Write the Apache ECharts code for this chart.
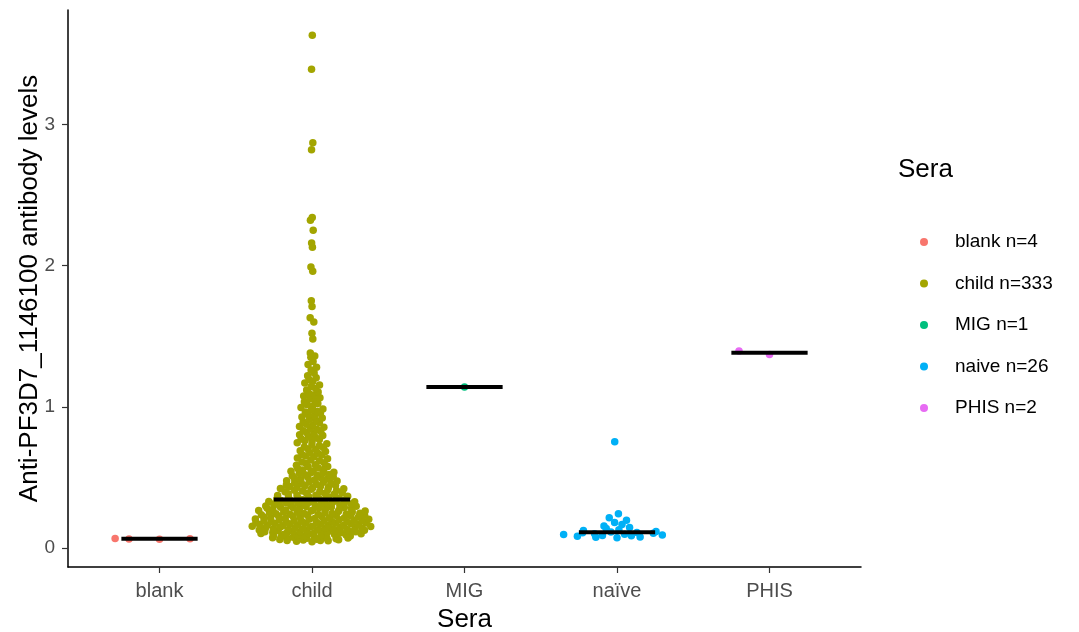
<!DOCTYPE html>
<html>
<head>
<meta charset="utf-8">
<script src="https://cdn.jsdelivr.net/npm/echarts@6/dist/echarts.min.js"></script>
<style>
  html, body { margin: 0; padding: 0; background: #ffffff; }
  #chart { width: 1079px; height: 632px; }
</style>
</head>
<body>
<div id="chart"></div>
<script>
// Groups shown on the x axis and their legend labels
const categories = ['blank', 'child', 'MIG', 'naïve', 'PHIS'];
const legendLabels = ['blank', 'child', 'MIG', 'naive', 'PHIS'];
const yTicks = [0, 1, 2, 3];

// Antibody levels per serum group
const blankValues = [0.062, 0.066, 0.064, 0.068];
const migValues = [1.14];
const phisValues = [1.395, 1.37];
const naiveValues = [
  0.072, 0.077, 0.079, 0.083, 0.087, 0.088, 0.092, 0.096, 0.097, 0.101,
  0.104, 0.108, 0.110, 0.114, 0.117, 0.124, 0.129, 0.139, 0.145, 0.156,
  0.166, 0.181, 0.197, 0.214, 0.242, 0.752
];
const childValues = [
  0.045, 0.048,
  0.051, 0.053, 0.054, 0.057, 0.058, 0.061, 0.062, 0.063, 0.065, 0.067,
  0.068, 0.070, 0.071, 0.073, 0.075, 0.076, 0.079, 0.080, 0.082, 0.083,
  0.086, 0.087, 0.090, 0.092, 0.093, 0.096, 0.098,
  0.101, 0.102, 0.103, 0.105, 0.107, 0.109, 0.110, 0.111, 0.113, 0.115,
  0.116, 0.118, 0.119, 0.120, 0.122, 0.124, 0.125, 0.126, 0.128, 0.130,
  0.131, 0.132, 0.134, 0.136, 0.137, 0.138, 0.140, 0.142, 0.144, 0.145,
  0.147, 0.149,
  0.151, 0.152, 0.154, 0.155, 0.157, 0.159, 0.161, 0.162, 0.163, 0.166,
  0.167, 0.168, 0.170, 0.172, 0.173, 0.175, 0.176, 0.178, 0.180, 0.181,
  0.183, 0.184, 0.186, 0.188, 0.189, 0.191, 0.192, 0.194, 0.195, 0.197,
  0.199,
  0.201, 0.203, 0.204, 0.206, 0.209, 0.210, 0.212, 0.213, 0.215, 0.218,
  0.219, 0.220, 0.222, 0.225, 0.226, 0.227, 0.230, 0.232, 0.233, 0.235,
  0.238, 0.239, 0.241, 0.242, 0.244, 0.245, 0.247, 0.249,
  0.251, 0.254, 0.255, 0.256, 0.259, 0.262, 0.263, 0.265, 0.268, 0.269,
  0.270, 0.273, 0.276, 0.277, 0.279, 0.282, 0.283, 0.286, 0.287, 0.288,
  0.291, 0.294, 0.295, 0.297, 0.299,
  0.301, 0.304, 0.305, 0.307, 0.310, 0.311, 0.312, 0.315, 0.318, 0.319,
  0.321, 0.322, 0.325, 0.328, 0.329, 0.330, 0.333, 0.336, 0.337, 0.339,
  0.341, 0.344,
  0.347, 0.351, 0.353, 0.355, 0.359, 0.363, 0.365, 0.367, 0.372, 0.374,
  0.376, 0.381, 0.384, 0.386, 0.388, 0.393, 0.398,
  0.401, 0.403, 0.408, 0.410, 0.412, 0.417, 0.420, 0.422, 0.426, 0.429,
  0.430, 0.435, 0.437, 0.441, 0.444, 0.447,
  0.452, 0.456, 0.458, 0.463, 0.466, 0.468, 0.474, 0.476, 0.482, 0.484,
  0.490, 0.492, 0.497,
  0.503, 0.505, 0.511, 0.513, 0.519, 0.521, 0.527, 0.529, 0.535, 0.537,
  0.543, 0.546,
  0.553, 0.556, 0.564, 0.567, 0.575, 0.578, 0.586, 0.590, 0.598,
  0.604, 0.609, 0.618, 0.623, 0.632, 0.637, 0.647,
  0.651, 0.659, 0.663, 0.671, 0.675, 0.683, 0.688, 0.697,
  0.702, 0.711, 0.716, 0.725, 0.730, 0.739, 0.745,
  0.754, 0.759, 0.768, 0.773, 0.782, 0.787, 0.797,
  0.802, 0.811, 0.816, 0.825, 0.830, 0.839, 0.845,
  0.855, 0.861, 0.871, 0.877, 0.887, 0.893,
  0.905, 0.911, 0.921, 0.927, 0.937, 0.943,
  0.953, 0.963, 0.969, 0.979, 0.985, 0.995,
  1.004, 1.016, 1.024, 1.036, 1.044,
  1.056, 1.064, 1.076, 1.084, 1.096,
  1.105, 1.119, 1.129, 1.143,
  1.155, 1.169, 1.179, 1.193,
  1.206, 1.219, 1.239,
  1.26, 1.28, 1.30, 1.32, 1.35, 1.36, 1.38, 1.48, 1.52, 1.60,
  1.63, 1.71, 1.75, 1.96, 1.99, 2.13, 2.16, 2.25, 2.32, 2.34,
  2.82, 2.87, 3.39, 3.63
];

const groupValues = [blankValues, childValues, migValues, naiveValues, phisValues];
const colors = ['#F8766D', '#A3A500', '#00BF7D', '#00B0F6', '#E76BF3'];

// ---- quasirandom (van der Corput) horizontal spread, scaled by kernel density ----
function vanDerCorput(k) {
  let q = 0, b = 0.5;
  while (k > 0) { q += (k % 2) * b; k = Math.floor(k / 2); b /= 2; }
  return q;
}
function quantile(sorted, p) {
  const h = (sorted.length - 1) * p;
  const lo = Math.floor(h);
  const hi = Math.min(lo + 1, sorted.length - 1);
  return sorted[lo] + (h - lo) * (sorted[hi] - sorted[lo]);
}
function bandwidthNrd0(vals) {
  const n = vals.length;
  const mean = vals.reduce((a, b) => a + b, 0) / n;
  const sd = Math.sqrt(vals.reduce((a, b) => a + (b - mean) * (b - mean), 0) / (n - 1));
  const s = vals.slice().sort((a, b) => a - b);
  const iqr = quantile(s, 0.75) - quantile(s, 0.25);
  let lo = Math.min(sd, iqr / 1.34);
  if (!(lo > 0)) lo = sd || Math.abs(s[0]) || 1;
  return 0.9 * lo * Math.pow(n, -0.2);
}
function quasiOffsets(vals, width, adjust) {
  const n = vals.length;
  if (n < 2) return vals.map(() => 0);
  const bw = bandwidthNrd0(vals) * adjust;
  const dens = y => {
    let s = 0;
    for (const v of vals) { const z = (y - v) / bw; s += Math.exp(-0.5 * z * z); }
    return s;
  };
  const lo = Math.min(...vals) - 3 * bw, hi = Math.max(...vals) + 3 * bw;
  let maxD = 0;
  for (let i = 0; i < 512; i++) maxD = Math.max(maxD, dens(lo + (hi - lo) * i / 511));
  vals.forEach(v => { maxD = Math.max(maxD, dens(v)); });
  const order = vals.map((v, i) => i).sort((a, b) => vals[a] - vals[b] || a - b);
  const rank = new Array(n);
  order.forEach((i, r) => { rank[i] = r + 1; });
  return vals.map((v, i) => (vanDerCorput(rank[i]) - 0.5) * 2 * width * dens(v) / maxD);
}
function median(vals) {
  const s = vals.slice().sort((a, b) => a - b);
  const m = Math.floor(s.length / 2);
  return s.length % 2 ? s[m] : (s[m - 1] + s[m]) / 2;
}

// y range with 5% padding on both ends
const allVals = groupValues.flat();
const yMinData = Math.min(...allVals), yMaxData = Math.max(...allVals);
const yPad = (yMaxData - yMinData) * 0.05;

const FONT = '"Liberation Sans", Arial, sans-serif';
const series = [];

groupValues.forEach((vals, g) => {
  const offs = quasiOffsets(vals, 0.4, 0.5);
  series.push({
    name: legendLabels[g] + ' n=' + vals.length,
    type: 'scatter',
    symbol: 'circle',
    symbolSize: 7.5,
    itemStyle: { color: colors[g], opacity: 1 },
    data: vals.map((v, i) => [g + 1 + offs[i], v]),
    z: 2,
    silent: true
  });
});
groupValues.forEach((vals, g) => {
  const m = median(vals);
  series.push({
    type: 'line',
    symbol: 'none',
    lineStyle: { color: '#000000', width: 4, cap: 'butt' },
    data: [[g + 1 - 0.25, m], [g + 1 + 0.25, m]],
    z: 5,
    silent: true
  });
});

const chart = echarts.init(document.getElementById('chart'), null, { renderer: 'canvas' });
chart.setOption({
  animation: false,
  backgroundColor: '#ffffff',
  title: {
    text: 'Sera',
    left: 893,
    top: 152,
    textStyle: { fontFamily: FONT, fontSize: 26, fontWeight: 'normal', color: '#000000' }
  },
  legend: {
    orient: 'vertical',
    left: 915,
    top: 227,
    itemWidth: 8,
    itemHeight: 8,
    itemGap: 21.5,
    icon: 'circle',
    data: series.filter(s => s.type === 'scatter').map(s => s.name),
    textStyle: { fontFamily: FONT, fontSize: 19, color: '#000000', padding: [0, 0, 0, 22], lineHeight: 20 },
    selectedMode: false
  },
  grid: { left: 68, right: 218, top: 10, bottom: 65, containLabel: false, outerBoundsMode: 'none' },
  xAxis: {
    type: 'value',
    min: 0.4,
    max: 5.6,
    name: 'Sera',
    nameLocation: 'middle',
    nameGap: 40,
    nameMoveOverlap: false,
    nameTextStyle: { fontFamily: FONT, fontSize: 26, color: '#000000' },
    splitLine: { show: false },
    axisLine: { show: true, onZero: false, lineStyle: { color: '#000000', width: 1.5 } },
    axisTick: { show: true, customValues: [1, 2, 3, 4, 5], length: 6, lineStyle: { color: '#333333', width: 1.2 } },
    axisLabel: {
      customValues: [1, 2, 3, 4, 5],
      formatter: v => categories[Math.round(v) - 1],
      fontFamily: FONT, fontSize: 20, color: '#4d4d4d', margin: 14
    }
  },
  yAxis: {
    type: 'value',
    min: yMinData - yPad,
    max: yMaxData + yPad,
    name: 'Anti-PF3D7_1146100 antibody levels',
    nameLocation: 'middle',
    nameGap: 25,
    nameMoveOverlap: false,
    nameRotate: 90,
    nameTextStyle: { fontFamily: FONT, fontSize: 26, color: '#000000' },
    splitLine: { show: false },
    axisLine: { show: true, onZero: false, lineStyle: { color: '#000000', width: 1.5 } },
    axisTick: { show: true, customValues: yTicks, length: 6, lineStyle: { color: '#333333', width: 1.2 } },
    axisLabel: {
      customValues: yTicks,
      formatter: v => String(v),
      fontFamily: FONT, fontSize: 19, color: '#4d4d4d', margin: 13
    }
  },
  series: series
});
</script>
</body>
</html>
